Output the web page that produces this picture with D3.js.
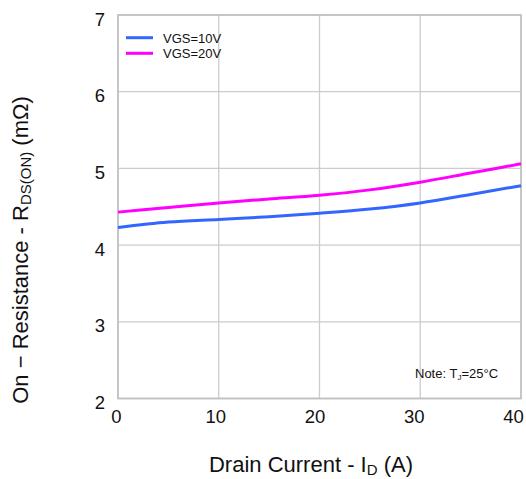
<!DOCTYPE html>
<html><head><meta charset="utf-8">
<script src="https://cdn.jsdelivr.net/npm/d3@7/dist/d3.min.js"></script>
<style>body{margin:0;background:#fff}svg{display:block;font-family:"Liberation Sans",Arial,sans-serif}</style>
</head><body><svg id="c" width="526" height="479"></svg>
<script>
const current = [0, 5, 10, 15, 20, 25, 30, 35, 40];
const vgs10 = [4.23, 4.30, 4.335, 4.37, 4.415, 4.47, 4.55, 4.66, 4.775];
const vgs20 = [4.43, 4.49, 4.55, 4.60, 4.65, 4.72, 4.82, 4.94, 5.06];
const xTicks = [0, 10, 20, 30, 40];
const yTicks = [2, 3, 4, 5, 6, 7];
const seriesNames = ["VGS=10V", "VGS=20V"];
const colors = ["#3366ff", "#ff00ff"];
const FONT = "Liberation Sans, Arial, sans-serif";

const svg = d3.select("#c");
const x = d3.scaleLinear().domain([0, 40]).range([118, 521]);
const xLab = x.copy().range([116, 513]);
const y = d3.scaleLinear().domain([2, 7]).range([398.5, 15]);

// grid
const g = svg.append("g");
g.selectAll(".gx").data(xTicks).join("line")
  .attr("x1", d => x(d)).attr("x2", d => x(d)).attr("y1", y(7)).attr("y2", y(2))
  .attr("stroke", "#cccccc").attr("stroke-width", 1.3);
g.selectAll(".gy").data(yTicks).join("line")
  .attr("y1", d => y(d)).attr("y2", d => y(d)).attr("x1", x(0)).attr("x2", x(40))
  .attr("stroke", "#cccccc").attr("stroke-width", 1.3);
g.append("rect").attr("x", x(0)).attr("y", y(7)).attr("width", x(40) - x(0)).attr("height", y(2) - y(7))
  .attr("fill", "none").attr("stroke", "#c0c0c0").attr("stroke-width", 1.6);

// axes
const xa = svg.append("g").attr("transform", `translate(0,${y(2)})`)
  .call(d3.axisBottom(xLab).tickValues(xTicks).tickFormat(d3.format("d")).tickSize(0).tickPadding(11));
xa.select(".domain").remove();
xa.selectAll("text").attr("font-size", 18.5).attr("fill", "#111").attr("font-family", FONT);
const ya = svg.append("g").attr("transform", `translate(${x(0) - 13},0)`)
  .call(d3.axisLeft(y).tickValues(yTicks).tickFormat(d3.format("d")).tickSize(0).tickPadding(0));
ya.select(".domain").remove();
ya.selectAll("text").attr("font-size", 18.5).attr("fill", "#111").attr("font-family", FONT)
  .attr("dy", "0.55em");

// lines
const line = d3.line().x((d, i) => x(current[i])).y(d => y(d)).curve(d3.curveMonotoneX);
[vgs10, vgs20].forEach((s, i) => {
  svg.append("path").datum(s).attr("d", line).attr("fill", "none")
    .attr("stroke", colors[i]).attr("stroke-width", 3);
});

// legend
const lg = svg.append("g");
seriesNames.forEach((n, i) => {
  const yy = 37.7 + i * 15.6;
  lg.append("line").attr("x1", 126).attr("x2", 153).attr("y1", yy).attr("y2", yy)
    .attr("stroke", colors[i]).attr("stroke-width", 3);
  lg.append("text").attr("x", 163).attr("y", yy + 5).attr("font-size", 13).attr("fill", "#111").text(n);
});

// note
const note = svg.append("text").attr("x", 415).attr("y", 377.5).attr("font-size", 13).attr("fill", "#111");
note.append("tspan").text("Note: T");
note.append("tspan").attr("font-size", 8).attr("dy", 2).text("J");
note.append("tspan").attr("dy", -2).text("=25°C");

// x label
const xl = svg.append("text").attr("x", 311).attr("y", 472).attr("text-anchor", "middle").attr("font-size", 22).attr("fill", "#111");
xl.append("tspan").text("Drain Current - I");
xl.append("tspan").attr("font-size", 15).attr("dy", 3).text("D");
xl.append("tspan").attr("dy", -3).text(" (A)");

// y label
const yl = svg.append("text").attr("transform", "translate(28,250) rotate(-90)")
  .attr("text-anchor", "middle").attr("font-size", 22).attr("fill", "#111");
yl.append("tspan").text("On − Resistance - R");
yl.append("tspan").attr("font-size", 15).attr("dy", 3).text("DS(ON)");
yl.append("tspan").attr("dy", -3).text(" (mΩ)");
</script></body></html>
